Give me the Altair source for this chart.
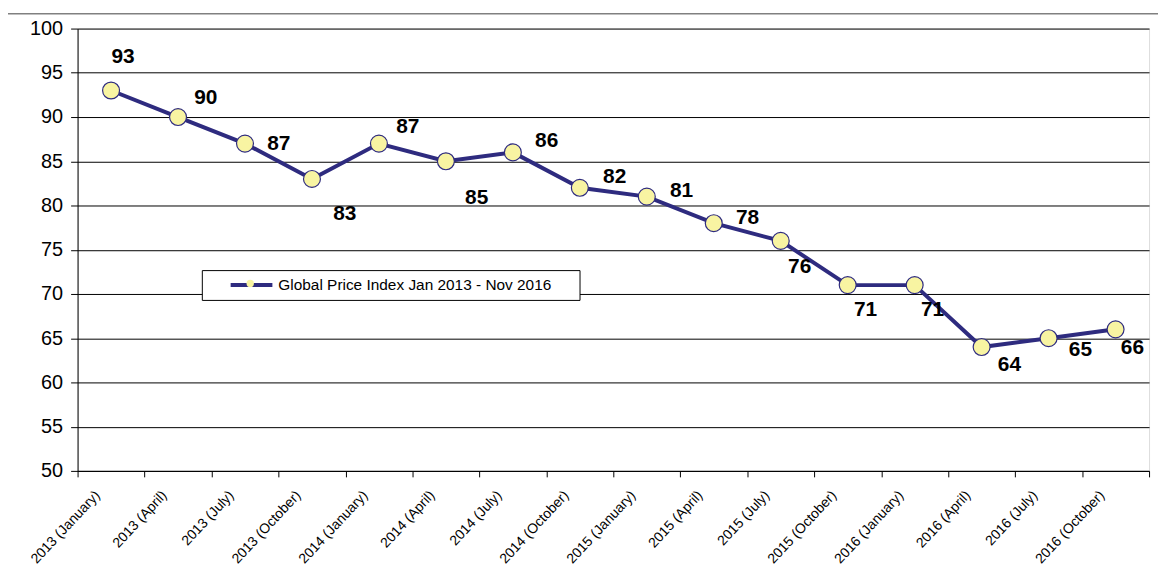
import altair as alt
import pandas as pd

# ---------------- data ----------------
categories = [
    "2013 (January)", "2013 (April)", "2013 (July)", "2013 (October)",
    "2014 (January)", "2014 (April)", "2014 (July)", "2014 (October)",
    "2015 (January)", "2015 (April)", "2015 (July)", "2015 (October)",
    "2016 (January)", "2016 (April)", "2016 (July)", "2016 (October)",
]
values = [93, 90, 87, 83, 87, 85, 86, 82, 81, 78, 76, 71, 71, 64, 65, 66]
series_name = "Global Price Index Jan 2013 - Nov 2016"
y_ticks = [50, 55, 60, 65, 70, 75, 80, 85, 90, 95, 100]

# label placement (pixel offsets of each data label from its point), styling only
label_offsets = [
    (12, -34), (28, -19), (34, 0), (33, 35), (29, -17), (31, 37), (34, -11), (35, -11),
    (35, -6), (34, -5), (19, 26), (18, 25), (18, 25), (28, 18), (32, 12), (17, 19),
]

df = pd.DataFrame({"period": categories, "value": values, "order": list(range(len(categories)))})
df["series"] = series_name
df["series_pt"] = series_name

NAVY = "#2E2B7F"
YELLOW = "#F8F4A2"
FONT = "Liberation Sans"

x_enc = alt.X(
    "period:N", sort=categories, bandPosition=0.5,
    scale=alt.Scale(type="band", paddingInner=0, paddingOuter=0),
    axis=alt.Axis(
        title=None, labelAngle=-47, labelAlign="right", labelBaseline="middle",
        labelFontSize=14, labelFont=FONT, labelColor="black", labelPadding=16,
        labelOffset=-14, tickBand="extent", ticks=True, tickSize=6, tickColor="black",
        domainColor="black", grid=False, labelLimit=0,
    ),
)
y_enc = alt.Y(
    "value:Q",
    scale=alt.Scale(domain=[50, 100], nice=False, zero=False),
    axis=alt.Axis(
        title=None, values=y_ticks, grid=True, gridColor="black", gridWidth=1,
        tickSize=7, tickColor="black", domainColor="black", labelFontSize=20,
        labelFont=FONT, labelColor="black", labelPadding=8,
    ),
)

base = alt.Chart(df)

line = base.mark_line(strokeWidth=4).encode(
    x=x_enc, y=y_enc,
    color=alt.Color(
        "series:N", scale=alt.Scale(range=[NAVY]),
        legend=alt.Legend(
            orient="none", legendX=125, legendY=243,
            title="MM", titleOrient="right", titleColor="rgba(0,0,0,0)",
            titleFontSize=12, titlePadding=2,
            fillColor="white", strokeColor="black", padding=6,
            symbolType="M-3,0H3", symbolSize=196, symbolStrokeWidth=4,
            symbolOffset=35, labelOffset=18, labelFontSize=15.5, labelFont=FONT,
            labelColor="black", labelLimit=0, zindex=1,
        ),
    ),
)

points = base.mark_point(
    size=290, fill=YELLOW, stroke=NAVY, strokeWidth=1.2, opacity=1,
    fillOpacity=1, strokeOpacity=1,
).encode(
    x=x_enc, y=y_enc,
    shape=alt.Shape(
        "series_pt:N", scale=alt.Scale(range=["circle"]),
        legend=alt.Legend(
            orient="none", legendX=169.2, legendY=252, title=None, padding=0,
            symbolSize=55, symbolFillColor=YELLOW, symbolStrokeColor=NAVY,
            symbolStrokeWidth=1.2, labelExpr="''", labelFontSize=1, labelOffset=0,
            symbolOffset=0, zindex=2,
        ),
    ),
)

label_layers = []
groups = {}
for i, off in enumerate(label_offsets):
    groups.setdefault(off, []).append(i)
for (dx, dy), idx in groups.items():
    label_layers.append(
        base.mark_text(
            dx=dx, dy=dy, fontSize=21, fontWeight="bold", font=FONT,
            align="center", baseline="middle", color="black",
        ).encode(x=x_enc, y=y_enc, text="value:Q")
        .transform_filter(alt.FieldOneOfPredicate(field="order", oneOf=idx))
    )

frame = alt.Chart(alt.Data(values=[{}])).mark_rect(
    fillOpacity=0, stroke="#808080", strokeWidth=1.5, clip=False,
).encode(
    x=alt.value(-71), x2=alt.value(1300), y=alt.value(-15), y2=alt.value(700),
)

chart = alt.layer(frame, line, points, *label_layers).properties(
    width=1078, height=445,
    autosize=alt.AutoSizeParams(type="none"),
    padding={"left": 70, "top": 19, "right": 9, "bottom": 95},
).configure_view(
    fill="#C0C0C0", stroke="#808080", strokeWidth=1,
).configure(background="white")

chart.save("out.html", embed_options={"renderer": "svg", "actions": False})
